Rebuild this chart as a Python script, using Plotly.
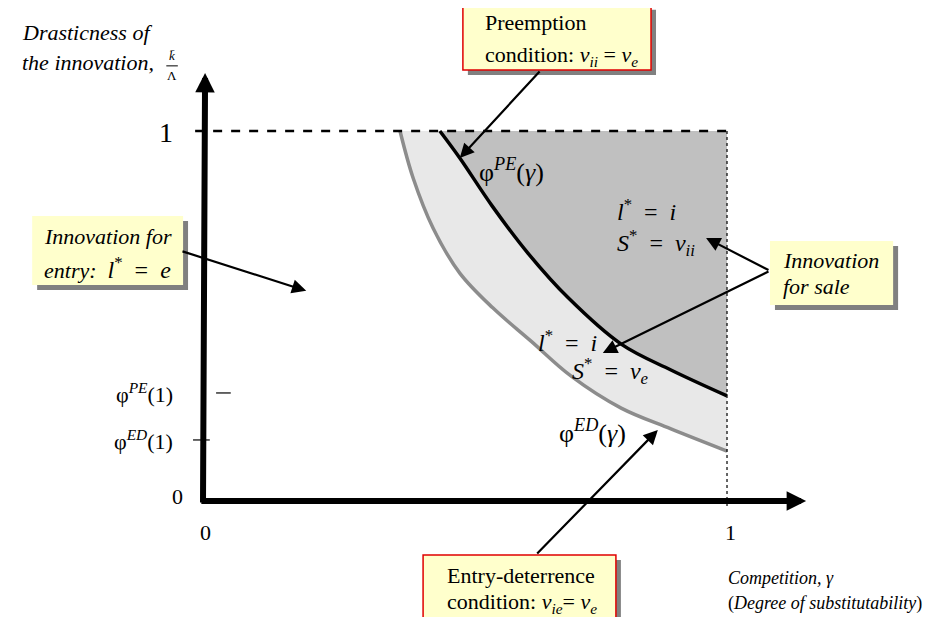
import plotly.graph_objects as go

# curves (gamma, drasticness k/Lambda)
gamma_pe = [0.452, 0.490, 0.552, 0.620, 0.697, 0.798, 0.893, 1.0]
phi_pe = [1.0, 0.927, 0.797, 0.670, 0.549, 0.424, 0.354, 0.284]
gamma_ed = [0.376, 0.401, 0.439, 0.490, 0.553, 0.626, 0.702, 0.798, 0.893, 1.0]
phi_ed = [1.0, 0.873, 0.738, 0.616, 0.522, 0.432, 0.338, 0.251, 0.195, 0.135]

phi_pe_1 = 0.292
phi_ed_1 = 0.165

FONT = "Liberation Serif, Times New Roman, serif"
YELLOW = "#ffffcc"
SHADOW = "#808080"
SP = "\u2002"

fig = go.Figure()

# regions
fig.add_trace(go.Scatter(x=gamma_ed + [1.0], y=phi_ed + [1.0], fill="toself",
                         fillcolor="#e8e8e8", mode="lines", line=dict(width=0),
                         hoverinfo="skip"))
fig.add_trace(go.Scatter(x=gamma_pe + [1.0], y=phi_pe + [1.0], fill="toself",
                         fillcolor="#c0c0c0", mode="lines", line=dict(width=0),
                         hoverinfo="skip"))
# boundary curves
fig.add_trace(go.Scatter(x=gamma_ed, y=phi_ed, mode="lines",
                         line=dict(color="#8c8c8c", width=3.5, shape="spline"),
                         hoverinfo="skip"))
fig.add_trace(go.Scatter(x=gamma_pe, y=phi_pe, mode="lines",
                         line=dict(color="black", width=3.5, shape="spline"),
                         hoverinfo="skip"))

# guide lines
fig.add_shape(type="line", x0=-0.015, y0=1, x1=1.0, y1=1,
              line=dict(color="black", width=2.5, dash="dash"))
fig.add_shape(type="line", x0=1.0, y0=1, x1=1.0, y1=-0.02,
              line=dict(color="black", width=1.2, dash="dot"))
fig.add_shape(type="line", x0=-0.019, y0=phi_ed_1, x1=0.013, y1=phi_ed_1,
              line=dict(color="black", width=1.2))
fig.add_shape(type="line", x0=0.025, y0=phi_pe_1, x1=0.053, y1=phi_pe_1,
              line=dict(color="black", width=1.2))
# fraction bar of k/Lambda
fig.add_shape(type="line", x0=-0.070, y0=1.176, x1=-0.048, y1=1.176,
              line=dict(color="black", width=1))

# boxes (shadow + box)
dx, dy = 0.0095, 0.0135
def box(x0, x1, y0, y1, border=None):
    fig.add_shape(type="rect", x0=x0 + dx, x1=x1 + dx, y0=y0 - dy, y1=y1 - dy,
                  fillcolor=SHADOW, line=dict(width=0))
    fig.add_shape(type="rect", x0=x0, x1=x1, y0=y0, y1=y1, fillcolor=YELLOW,
                  line=dict(color=border or YELLOW, width=1.5 if border else 0))

box(0.496, 0.855, 1.341, 1.165, border="#e00000")
box(-0.326, -0.038, 0.770, 0.584)
box(1.082, 1.317, 0.703, 0.530)
box(0.420, 0.788, -0.146, -0.316, border="#e00000")

# axes
def arrow(x0, y0, x1, y1, width=2.2, size=1.3):
    fig.add_annotation(x=x1, y=y1, ax=x0, ay=y0, axref="x", ayref="y",
                       xref="x", yref="y", text="", showarrow=True,
                       arrowhead=2, arrowwidth=width, arrowsize=size,
                       arrowcolor="black", standoff=0)

arrow(0, -0.008, 0.004, 1.157, width=6, size=0.65)
arrow(-0.006, 0, 1.151, 0, width=6, size=0.65)

# pointers
arrow(0.645, 1.165, 0.490, 0.927)
arrow(-0.042, 0.676, 0.197, 0.568)
arrow(1.082, 0.622, 0.960, 0.711)
arrow(1.082, 0.622, 0.763, 0.400)
arrow(0.635, -0.146, 0.868, 0.192)

def label(x, y, text, size=22, xanchor="center", align="center"):
    fig.add_annotation(x=x, y=y, text=text, showarrow=False, xanchor=xanchor,
                       align=align,
                       font=dict(family=FONT, size=size, color="black"))

# axis titles
label(-0.349, 1.265, "<i>Drasticness of</i>", size=22, xanchor="left")
label(-0.349, 1.184, "<i>the innovation,</i>", size=22, xanchor="left")
label(-0.059, 1.203, "<i>k\u0304</i>", size=13)
label(-0.059, 1.150, "\u039b", size=13)
label(0.998, -0.208, "<i>Competition, \u03b3</i>", size=18, xanchor="left")
label(0.998, -0.276, "(<i>Degree of substitutability</i>)", size=18, xanchor="left")

# ticks
label(-0.071, 0.995, "1", size=28)
label(-0.053, phi_pe_1, "\u03c6<sup><i>PE</i></sup>(1)", xanchor="right")
label(-0.053, phi_ed_1, "\u03c6<sup><i>ED</i></sup>(1)", xanchor="right")
label(-0.048, 0.0135, "0", size=22)
label(0.004, -0.086, "0", size=22)
label(1.006, -0.086, "1", size=22)

# curve names and regions
eq = SP + "=" + SP
label(0.588, 0.892, "\u03c6<sup><i>PE</i></sup>(<i>\u03b3</i>)", size=26)
label(0.744, 0.189, "\u03c6<sup><i>ED</i></sup>(<i>\u03b3</i>)", size=26)
label(0.786, 0.786, "<i>l</i><sup>*</sup>" + eq + "<i>i</i>", size=24, xanchor="left")
label(0.786, 0.697, "<i>S</i><sup>*</sup>" + eq + "<i>v</i><sub><i>ii</i></sub>", size=24, xanchor="left")
label(0.635, 0.432, "<i>l</i><sup>*</sup>" + eq + "<i>i</i>", size=24, xanchor="left")
label(0.700, 0.351, "<i>S</i><sup>*</sup>" + eq + "<i>v</i><sub><i>e</i></sub>", size=24, xanchor="left")

# box texts
label(0.534, 1.292, "Preemption", xanchor="left")
label(0.534, 1.203, "condition: <i>v</i><sub><i>ii</i></sub> = <i>v</i><sub><i>e</i></sub>", xanchor="left")
label(-0.307, 0.716, "<i>Innovation for</i>", xanchor="left")
label(-0.307, 0.630, "<i>entry:</i>  <span style='font-size:24px'><i>l</i><sup>*</sup>" + eq + "<i>e</i></span>",
      xanchor="left")
label(1.103, 0.651, "<i>Innovation</i>", xanchor="left")
label(1.103, 0.581, "<i>for sale</i>", xanchor="left")
label(0.462, -0.200, "Entry-deterrence", xanchor="left")
label(0.462, -0.276, "condition: <i>v</i><sub><i>ie</i></sub>= <i>v</i><sub><i>e</i></sub>", xanchor="left")

fig.update_layout(
    width=938, height=617,
    margin=dict(l=0, r=0, t=0, b=0),
    plot_bgcolor="white", paper_bgcolor="white",
    showlegend=False,
    font=dict(family=FONT, color="black"),
    xaxis=dict(range=[-0.3721, 1.4179], visible=False),
    yaxis=dict(range=[-0.3351, 1.3324], visible=False),
)

fig.write_html("out.html")
